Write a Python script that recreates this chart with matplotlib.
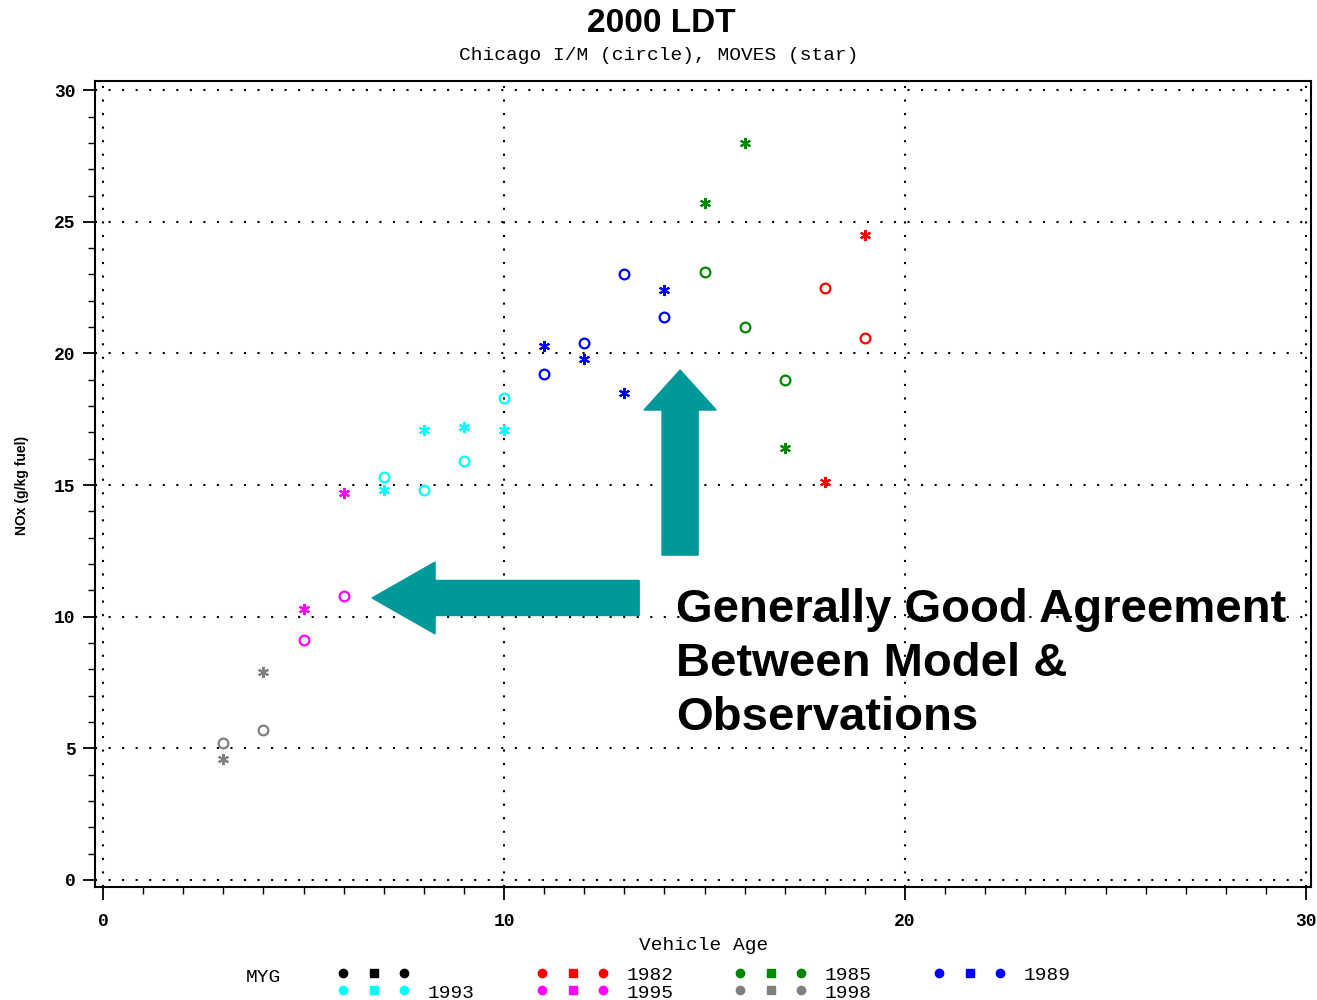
import matplotlib
matplotlib.use("Agg")
import matplotlib.pyplot as plt
from matplotlib.patches import FancyArrow
from matplotlib.ticker import MultipleLocator

# model year groups and their colours
years = ["1982", "1985", "1989", "1993", "1995", "1998"]
colors = ["#ff0000", "#008800", "#0000ff", "#00ffff", "#ff00ff", "#808080"]

# vehicle age for each group
ages = [
    [18, 19],
    [15, 16, 17],
    [11, 12, 13, 14],
    [7, 8, 9, 10],
    [5, 6],
    [3, 4],
]
# Chicago I/M observations (circle)
obs = [
    [22.5, 20.6],
    [23.1, 21.0, 19.0],
    [19.2, 20.4, 23.0, 21.4],
    [15.3, 14.8, 15.9, 18.3],
    [9.1, 10.8],
    [5.2, 5.7],
]
# MOVES model (star)
moves = [
    [15.1, 24.5],
    [25.7, 28.0, 16.4],
    [20.3, 19.8, 18.5, 22.4],
    [14.8, 17.1, 17.2, 17.1],
    [10.3, 14.7],
    [4.6, 7.9],
]

teal = "#009999"
mono = "Liberation Mono"

fig = plt.figure(figsize=(13.17, 10), dpi=100)
ax = fig.add_axes([0.0721, 0.113, 0.9233, 0.806])

for c, a, o, m in zip(colors, ages, obs, moves):
    ax.plot(a, o, linestyle="none", marker="o", markersize=7, markerfacecolor="none",
            markeredgecolor=c, markeredgewidth=1.6)
    ax.plot(a, m, linestyle="none", marker=(6, 2, 0), markersize=8,
            markeredgecolor=c, markeredgewidth=1.5)

ax.set_xlim(-0.2, 30.12)
ax.set_ylim(-0.27, 30.35)
ax.xaxis.set_major_locator(MultipleLocator(10))
ax.xaxis.set_minor_locator(MultipleLocator(1))
ax.yaxis.set_major_locator(MultipleLocator(5))
ax.yaxis.set_minor_locator(MultipleLocator(1))
ax.tick_params(which="major", length=9, width=1.3, direction="out")
ax.tick_params(which="minor", length=5, width=1.0, direction="out")
ax.tick_params(axis="x", which="both", top=False)
ax.tick_params(axis="y", which="both", right=False)
ax.tick_params(axis="x", labelsize=13, pad=10)
ax.tick_params(axis="y", labelsize=13, pad=5)
for lab in ax.get_xticklabels() + ax.get_yticklabels():
    lab.set_fontfamily(mono)
    lab.set_fontweight("bold")
ax.grid(True, which="major", color="black", linestyle=(0, (1, 5.5)), linewidth=1.5)
for s in ax.spines.values():
    s.set_linewidth(1.5)

# arrows
ax.add_patch(FancyArrow(14.39, 12.34, 0, 7.03, width=0.9, head_width=1.8,
                        head_length=1.52, length_includes_head=True,
                        color=teal, zorder=5))
ax.add_patch(FancyArrow(13.37, 10.71, -6.66, 0, width=1.33, head_width=2.73,
                        head_length=1.57, length_includes_head=True,
                        color=teal, zorder=5))
ax.text(14.28, 11.1, "Generally Good Agreement\nBetween Model &\nObservations",
        fontsize=34, fontweight="bold", family="Liberation Sans",
        va="top", ha="left", linespacing=1.3, zorder=6)

# titles and axis labels
fig.text(0.502, 0.977, "2000 LDT", ha="center", va="center", fontsize=24,
         fontweight="bold", family="Liberation Sans")
fig.text(0.5, 0.945, "Chicago I/M (circle), MOVES (star)", ha="center", va="center",
         fontsize=14, family=mono)
fig.text(0.534, 0.054, "Vehicle Age", ha="center", va="center", fontsize=14, family=mono)
fig.text(0.0167, 0.515, "NOx (g/kg fuel)", ha="center", va="center", rotation=90,
         fontsize=10, fontweight="bold", family="Liberation Sans")

# legend
fig.text(0.2, 0.023, "MYG", ha="center", va="center", fontsize=14, family=mono)
leg_x = [0.2604, 0.4115, 0.5619, 0.7130]
rows = [0.027, 0.010]
groups = [("#000000", "")] + list(zip(colors, years))
slots = [(0, 0), (1, 0), (2, 0), (3, 0), (0, 1), (1, 1), (2, 1)]
for (c, label), (col, row) in zip(groups, slots):
    x0 = leg_x[col]
    y0 = rows[row]
    for k, mk in enumerate(["o", "s", "o"]):
        fig.lines.append(plt.Line2D([x0 + k * 0.0233], [y0], marker=mk, markersize=6,
                                    color=c, linestyle="none",
                                    transform=fig.transFigure))
    if label:
        fig.text(x0 + 0.0645, y0 - 0.003, label, ha="left", va="center",
                 fontsize=14, family=mono)

fig.savefig("out.png", dpi=100)
